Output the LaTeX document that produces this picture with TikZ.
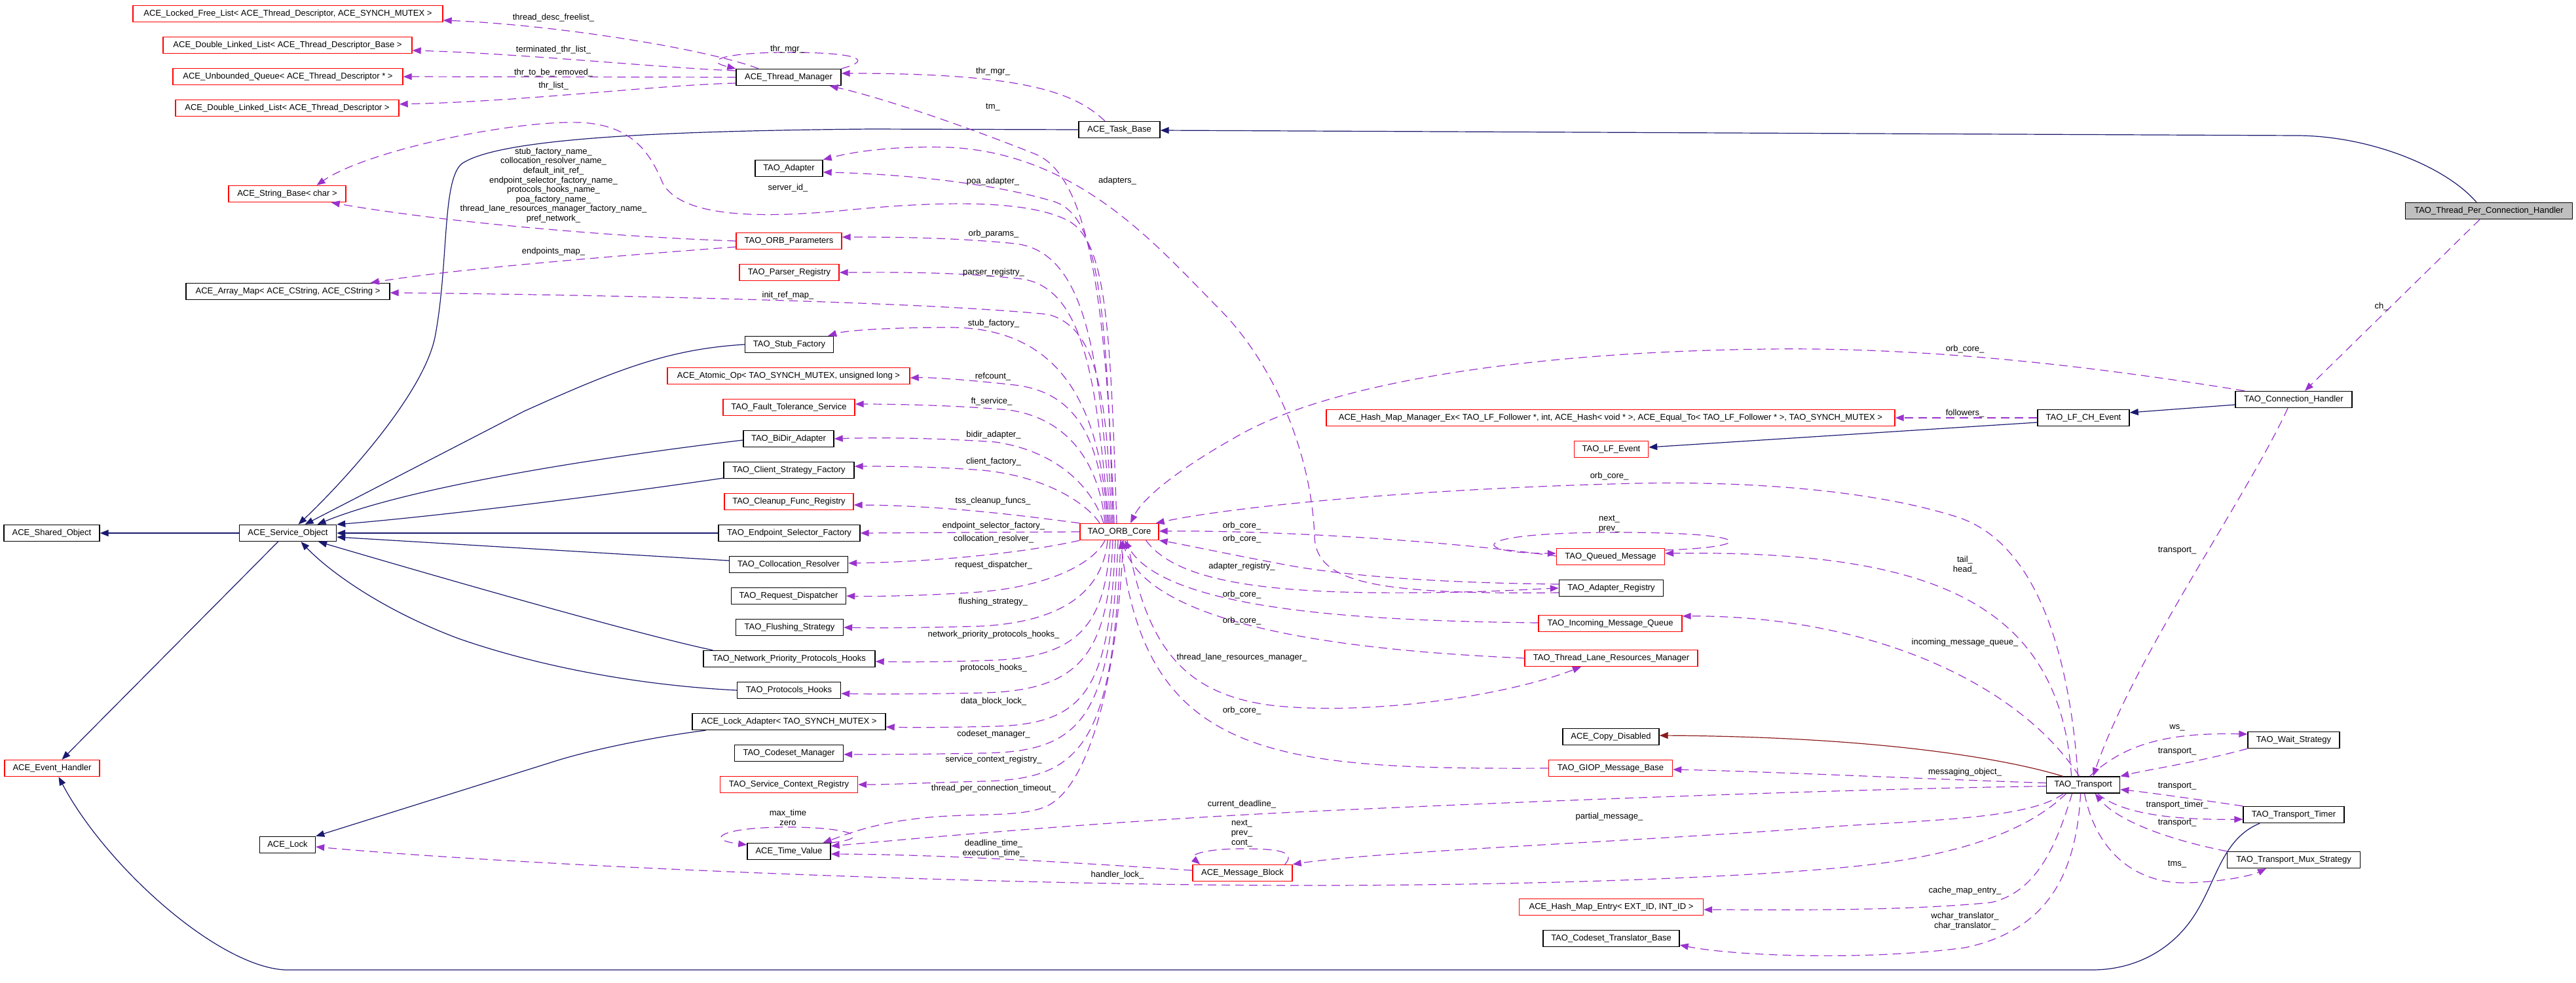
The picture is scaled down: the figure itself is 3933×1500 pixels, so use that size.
\documentclass[tikz,border=0pt]{standalone}
\usepackage{fontspec}
\setmainfont{Liberation Sans}
\usetikzlibrary{arrows.meta}
\definecolor{dxnavy}{HTML}{191970}
\definecolor{dxorch}{HTML}{9A32CD}
\definecolor{dxdark}{HTML}{8B1A1A}
\definecolor{dxgray}{HTML}{BFBFBF}
\newcommand{\dxf}{\fontsize{13}{15}\selectfont}
\begin{document}
\begin{tikzpicture}[x=1pt,y=-1pt,
  cls/.style={draw, line width=1.4pt, minimum height=25pt, inner sep=0pt, font=\dxf},
  rb/.style={cls, draw=red},
  bb/.style={cls, draw=black},
  cur/.style={cls, draw=black, fill=dxgray},
  lab/.style={font=\dxf, inner sep=0pt, align=center},
  inh/.style={draw=dxnavy, line width=1.2pt, -{Triangle[length=13pt,width=10pt]}},
  prv/.style={draw=dxdark, line width=1.2pt, -{Triangle[length=13pt,width=10pt]}},
  use/.style={draw=dxorch, line width=1.2pt, dash pattern=on 13pt off 8pt, -{Triangle[length=13pt,width=10pt]}}]
\useasboundingbox (0,0) rectangle (3933,1500);
\fill[white] (0,0) rectangle (3933,1500);

% ---------------- nodes ----------------
\node[rb, minimum width=473pt] (tpl) at (439.5,21) {ACE\_Locked\_Free\_List< ACE\_Thread\_Descriptor, ACE\_SYNCH\_MUTEX >};
\node[rb, minimum width=380pt] (dllb) at (439,69) {ACE\_Double\_Linked\_List< ACE\_Thread\_Descriptor\_Base >};
\node[rb, minimum width=351pt] (uq) at (439.5,117) {ACE\_Unbounded\_Queue< ACE\_Thread\_Descriptor * >};
\node[rb, minimum width=341pt] (dll) at (438.5,165) {ACE\_Double\_Linked\_List< ACE\_Thread\_Descriptor >};
\node[rb, minimum width=179pt] (strbase) at (438.5,296) {ACE\_String\_Base< char >};
\node[bb, minimum width=311pt] (arraymap) at (439.5,445) {ACE\_Array\_Map< ACE\_CString, ACE\_CString >};
\node[bb, minimum width=148pt] (svcobj) at (439.5,814) {ACE\_Service\_Object};
\node[bb, minimum width=85pt] (lock) at (439,1290) {ACE\_Lock};
\node[bb, minimum width=146pt] (sharedobj) at (79,814) {ACE\_Shared\_Object};
\node[rb, minimum width=145pt] (evh) at (79.5,1173) {ACE\_Event\_Handler};

\node[bb, minimum width=160pt] (thrmgr) at (1204,118) {ACE\_Thread\_Manager};
\node[bb, minimum width=103pt] (adapter) at (1204.5,257) {TAO\_Adapter};
\node[rb, minimum width=161pt] (orbparams) at (1204.5,368) {TAO\_ORB\_Parameters};
\node[rb, minimum width=152pt] (parser) at (1205,416) {TAO\_Parser\_Registry};
\node[bb, minimum width=135pt] (stubf) at (1205,526) {TAO\_Stub\_Factory};
\node[rb, minimum width=370pt] (atomic) at (1204,574) {ACE\_Atomic\_Op< TAO\_SYNCH\_MUTEX, unsigned long >};
\node[rb, minimum width=201pt] (ft) at (1204.5,622) {TAO\_Fault\_Tolerance\_Service};
\node[bb, minimum width=138pt] (bidir) at (1204,670) {TAO\_BiDir\_Adapter};
\node[bb, minimum width=199pt] (csf) at (1204.5,718) {TAO\_Client\_Strategy\_Factory};
\node[rb, minimum width=197pt] (cleanup) at (1204.5,766) {TAO\_Cleanup\_Func\_Registry};
\node[bb, minimum width=216pt] (esf) at (1205,814) {TAO\_Endpoint\_Selector\_Factory};
\node[bb, minimum width=181pt] (colloc) at (1204,862) {TAO\_Collocation\_Resolver};
\node[bb, minimum width=175pt] (reqd) at (1204,910) {TAO\_Request\_Dispatcher};
\node[bb, minimum width=164pt] (flush) at (1205.5,958) {TAO\_Flushing\_Strategy};
\node[bb, minimum width=262pt] (nph) at (1205,1006) {TAO\_Network\_Priority\_Protocols\_Hooks};
\node[bb, minimum width=158pt] (ph) at (1204.5,1054) {TAO\_Protocols\_Hooks};
\node[bb, minimum width=295pt] (lockad) at (1204.5,1102) {ACE\_Lock\_Adapter< TAO\_SYNCH\_MUTEX >};
\node[bb, minimum width=166pt] (csm) at (1204.5,1150) {TAO\_Codeset\_Manager};
\node[rb, minimum width=210pt] (scr) at (1204.5,1198) {TAO\_Service\_Context\_Registry};
\node[bb, minimum width=127pt] (tv) at (1204.5,1300) {ACE\_Time\_Value};

\node[bb, minimum width=124pt] (taskbase) at (1709,198) {ACE\_Task\_Base};
\node[rb, minimum width=120pt] (orbcore) at (1709,812) {TAO\_ORB\_Core};
\node[rb, minimum width=152pt] (msgblock) at (1897,1333) {ACE\_Message\_Block};

\node[rb, minimum width=868pt] (hashmgr) at (2459,638) {ACE\_Hash\_Map\_Manager\_Ex< TAO\_LF\_Follower *, int, ACE\_Hash< void * >, ACE\_Equal\_To< TAO\_LF\_Follower * >, TAO\_SYNCH\_MUTEX >};
\node[rb, minimum width=113pt] (lfevent) at (2460,686) {TAO\_LF\_Event};
\node[rb, minimum width=165pt] (queued) at (2459,850) {TAO\_Queued\_Message};
\node[bb, minimum width=159pt] (adreg) at (2460,898) {TAO\_Adapter\_Registry};
\node[rb, minimum width=219pt] (imq) at (2458.5,952) {TAO\_Incoming\_Message\_Queue};
\node[rb, minimum width=264pt] (tlrm) at (2460,1005) {TAO\_Thread\_Lane\_Resources\_Manager};
\node[bb, minimum width=147pt] (copydis) at (2459.5,1125) {ACE\_Copy\_Disabled};
\node[rb, minimum width=189pt] (giop) at (2459,1173) {TAO\_GIOP\_Message\_Base};
\node[rb, minimum width=281pt] (hashentry) at (2460,1385) {ACE\_Hash\_Map\_Entry< EXT\_ID, INT\_ID >};
\node[bb, minimum width=208pt] (cstrans) at (2460,1433) {TAO\_Codeset\_Translator\_Base};

\node[bb, minimum width=140pt] (lfch) at (3181,638) {TAO\_LF\_CH\_Event};
\node[bb, minimum width=112pt] (transport) at (3180.6,1198.5) {TAO\_Transport};
\node[bb, minimum width=178pt] (connh) at (3502,610) {TAO\_Connection\_Handler};
\node[bb, minimum width=140pt] (waits) at (3502,1130) {TAO\_Wait\_Strategy};
\node[bb, minimum width=154pt] (timer) at (3502,1244) {TAO\_Transport\_Timer};
\node[bb, minimum width=203pt] (mux) at (3502,1313) {TAO\_Transport\_Mux\_Strategy};
\node[cur, minimum width=255pt] (tpch) at (3800,322) {TAO\_Thread\_Per\_Connection\_Handler};

% ---------------- inheritance ----------------
\draw[inh] ([xshift=-19pt]tpch.north) .. controls (3735,255) and (3620,208) .. (3509,207) -- ([yshift=-1pt]taskbase.east);
\draw[inh] (taskbase.west) -- (1330,197) .. controls (1000,200) and (760,212) .. (705,250) .. controls (675,275) and (685,400) .. (665,510) .. controls (650,600) and (520,740) .. ([xshift=16pt]svcobj.north);
\draw[inh] (stubf.west) .. controls (1020,533) and (940,565) .. (800,628) -- ([xshift=26pt]svcobj.north);
\draw[inh] ([yshift=-2pt]bidir.west) .. controls (900,700) and (620,745) .. ([xshift=45pt]svcobj.north);
\draw[inh] ([yshift=-12pt]csf.west) .. controls (900,760) and (650,790) .. (svcobj.north east);
\draw[inh] (esf.west) -- (svcobj.east);
\draw[inh] ([yshift=6pt]colloc.west) -- ([yshift=-6pt]svcobj.east);
\draw[inh] ([xshift=15pt]nph.north west) .. controls (980,970) and (700,890) .. ([xshift=-28pt]svcobj.south east);
\draw[inh] (ph.west) .. controls (950,1045) and (800,1010) .. (700,975) .. controls (580,930) and (500,870) .. ([xshift=20pt]svcobj.south);
\draw[inh] (svcobj.west) -- (sharedobj.east);
\draw[inh] ([xshift=-15pt]svcobj.south) -- ([xshift=15pt]evh.north);
\draw[inh] ([xshift=-52pt]timer.south) .. controls (3395,1280) and (3385,1340) .. (3355,1390) .. controls (3320,1450) and (3260,1481) .. (3194,1481) -- (435,1481) .. controls (330,1475) and (160,1320) .. ([xshift=10pt]evh.south);
\draw[inh] ([xshift=-127pt]lockad.south) .. controls (1000,1125) and (900,1145) .. (842,1164) -- (lock.north east);
\draw[inh] ([yshift=-7pt]lfch.west) -- ([yshift=3pt]lfevent.east);
\draw[inh] ([yshift=-8pt]connh.west) -- ([yshift=8pt]lfch.east);
\draw[prv] ([xshift=-31pt]transport.north) .. controls (3050,1155) and (2850,1125) .. ([yshift=2pt]copydis.east);

% ---------------- usage ----------------
\draw[use] ([xshift=-46pt]thrmgr.north) .. controls (1080,75) and (850,38) .. ([yshift=-10pt]tpl.east);
\draw[use] ([yshift=10pt]thrmgr.west) .. controls (1000,103) and (800,82) .. ([yshift=-8pt]dllb.east);
\draw[use] (thrmgr.west) -- (uq.east);
\draw[use] ([yshift=-9pt]thrmgr.west) .. controls (1000,130) and (800,155) .. ([yshift=6pt]dll.east);
\draw[use] (thrmgr.north east) .. controls (1340,90) and (1300,80) .. (1203,80) .. controls (1110,80) and (1070,92) .. (thrmgr.north west);
\draw[use] ([xshift=-22pt]taskbase.north) .. controls (1640,140) and (1560,112) .. ([yshift=6pt]thrmgr.east);
\draw[use] ([xshift=-8pt]orbcore.north) .. controls (1690,500) and (1670,270) .. (1580,235) .. controls (1480,195) and (1350,150) .. ([xshift=-18pt]thrmgr.south east);
\draw[use] ([xshift=-4pt]orbcore.north) .. controls (1695,500) and (1690,370) .. (1631,337) .. controls (1560,300) and (1400,310) .. (1281,322) .. controls (1150,334) and (1040,330) .. (1012,280) .. controls (995,240) and (970,190) .. (884,187) .. controls (780,184) and (560,230) .. ([xshift=45pt]strbase.north);
\draw[use] (orbparams.west) .. controls (900,360) and (650,335) .. ([xshift=-23pt]strbase.south east);
\draw[use] ([yshift=-9pt]orbparams.west) .. controls (950,390) and (700,410) .. ([xshift=-30pt]arraymap.north east);
\draw[use] ([xshift=-12pt]orbcore.north) .. controls (1690,600) and (1675,500) .. (1600,480) .. controls (1400,460) and (900,450) .. ([yshift=-2pt]arraymap.east);
\draw[use] ([xshift=-10pt]orbcore.north) .. controls (1690,450) and (1675,330) .. (1610,308) .. controls (1500,275) and (1350,265) .. ([yshift=-6pt]adapter.east);
\draw[use] ([yshift=-7pt]adreg.west) .. controls (2100,908) and (2010,890) .. (2007,820) .. controls (2003,700) and (1950,560) .. (1860,470) .. controls (1770,380) and (1650,235) .. (1450,225) .. controls (1350,222) and (1290,235) .. (adapter.north east);
\draw[use] ([xshift=-14pt]orbcore.north) .. controls (1680,550) and (1660,385) .. (1550,372) .. controls (1450,362) and (1350,362) .. ([yshift=6pt]orbparams.east);
\draw[use] ([xshift=-16pt]orbcore.north) .. controls (1675,600) and (1660,440) .. (1560,426) .. controls (1450,414) and (1350,416) .. (parser.east);
\draw[use] ([xshift=-18pt]orbcore.north) .. controls (1680,620) and (1620,500) .. (1450,500) .. controls (1350,500) and (1290,505) .. ([xshift=-9pt]stubf.north east);
\draw[use] ([xshift=-20pt]orbcore.north) .. controls (1680,680) and (1650,600) .. (1550,588) .. controls (1480,580) and (1420,576) .. ([yshift=-3pt]atomic.east);
\draw[use] ([xshift=-22pt]orbcore.north) .. controls (1680,720) and (1640,640) .. (1540,626) .. controls (1450,618) and (1350,617) .. ([yshift=5pt]ft.east);
\draw[use] ([xshift=-24pt]orbcore.north) .. controls (1670,750) and (1620,690) .. (1520,675) .. controls (1420,668) and (1330,668) .. (bidir.east);
\draw[use] ([xshift=-30pt]orbcore.north) .. controls (1660,770) and (1600,728) .. (1500,718) .. controls (1420,712) and (1350,712) .. ([yshift=6pt]csf.east);
\draw[use] (orbcore.north west) .. controls (1580,790) and (1450,772) .. ([yshift=-5pt]cleanup.east);
\draw[use] (orbcore.west) -- (esf.east);
\draw[use] (orbcore.south west) .. controls (1560,845) and (1420,858) .. ([yshift=2pt]colloc.east);
\draw[use] ([xshift=-22pt]orbcore.south) .. controls (1670,860) and (1600,898) .. (1480,905) .. controls (1400,910) and (1330,911) .. (reqd.east);
\draw[use] ([xshift=-18pt]orbcore.south) .. controls (1685,890) and (1640,948) .. (1500,956) .. controls (1400,959) and (1330,959) .. (flush.east);
\draw[use] ([xshift=-14pt]orbcore.south) .. controls (1688,950) and (1650,1002) .. (1520,1008) .. controls (1440,1011) and (1380,1011) .. ([yshift=-4pt]nph.east);
\draw[use] ([xshift=-10pt]orbcore.south) .. controls (1692,1000) and (1650,1054) .. (1500,1058) .. controls (1400,1060) and (1330,1060) .. ([yshift=-5pt]ph.east);
\draw[use] ([xshift=-6pt]orbcore.south) .. controls (1694,1050) and (1660,1105) .. (1520,1109) .. controls (1440,1111) and (1390,1111) .. ([yshift=-8pt]lockad.east);
\draw[use] ([xshift=-2pt]orbcore.south) .. controls (1697,1100) and (1650,1148) .. (1500,1150) .. controls (1400,1152) and (1330,1152) .. ([yshift=-2pt]csm.east);
\draw[use] ([xshift=2pt]orbcore.south) .. controls (1700,1140) and (1650,1190) .. (1500,1193) .. controls (1420,1195) and (1360,1198) .. (scr.east);
\draw[use] ([xshift=6pt]orbcore.south) .. controls (1705,1050) and (1660,1200) .. (1600,1230) .. controls (1560,1250) and (1480,1240) .. (1400,1250) .. controls (1330,1258) and (1290,1275) .. ([xshift=-12pt]tv.north east);
\draw[use] (tv.north east) .. controls (1335,1280) and (1300,1263) .. (1203,1263) .. controls (1100,1263) and (1075,1282) .. ([yshift=10pt]tv.west);
\draw[use] ([yshift=-2pt]transport.west) .. controls (2800,1205) and (2300,1225) .. (2000,1239) .. controls (1700,1253) and (1400,1280) .. ([yshift=8pt]tv.east);
\draw[use] ([yshift=4pt]msgblock.west) .. controls (1650,1318) and (1450,1305) .. ([yshift=-4pt]tv.east);
\draw[use] ([xshift=-12pt]msgblock.north east) .. controls (1980,1300) and (1950,1296) .. (1897,1296) .. controls (1840,1296) and (1815,1305) .. ([xshift=12pt]msgblock.north west);
\draw[use] ([xshift=-30pt]transport.south) .. controls (3100,1250) and (2950,1252) .. (2800,1262) .. controls (2500,1285) and (2100,1300) .. (msgblock.north east);
\draw[use] ([xshift=-26pt]transport.south) .. controls (3100,1265) and (3000,1305) .. (2840,1322) .. controls (2650,1342) and (2300,1352) .. (2000,1352) .. controls (1500,1352) and (800,1322) .. ([yshift=-3pt]lock.east);
\draw[use] ([yshift=3pt]transport.west) .. controls (2950,1190) and (2700,1178) .. ([yshift=-2pt]giop.east);
\draw[use] ([xshift=-17pt]transport.south) .. controls (3140,1290) and (3110,1362) .. (3040,1378) .. controls (2900,1392) and (2700,1389) .. ([yshift=-4pt]hashentry.east);
\draw[use] ([xshift=-4pt]transport.south) .. controls (3170,1330) and (3130,1420) .. (3000,1447) .. controls (2850,1467) and (2650,1460) .. ([yshift=-10pt]cstrans.east);
\draw[use] ([xshift=-6pt]transport.north) .. controls (3080,1040) and (2850,940) .. ([yshift=-2pt]imq.north east);
\draw[use] ([xshift=-18pt]transport.north) .. controls (3145,920) and (2950,840) .. ([yshift=5pt]queued.east);
\draw[use] ([xshift=-8pt]transport.north) .. controls (3160,1000) and (3110,830) .. (2990,790) .. controls (2850,745) and (2650,735) .. (2500,738) .. controls (2200,745) and (1900,770) .. ([xshift=-5pt]orbcore.north east);
\draw[use] ([xshift=-9pt]connh.south) .. controls (3430,760) and (3260,1000) .. ([xshift=15pt]transport.north);
\draw[use] ([xshift=-75pt]connh.north) .. controls (3200,560) and (2950,530) .. (2700,533) .. controls (2350,537) and (2050,580) .. (1900,660) .. controls (1800,715) and (1745,760) .. ([xshift=17pt]orbcore.north);
\draw[use] ([xshift=-14pt]tpch.south) -- ([xshift=17pt]connh.north);
\draw[use] (lfch.west) -- (hashmgr.east);
\draw[use] ([yshift=10pt]queued.east) .. controls (2690,835) and (2680,812) .. (2456,813) .. controls (2230,814) and (2250,845) .. ([yshift=5pt]queued.west);
\draw[use] ([yshift=1pt]queued.west) .. controls (2200,825) and (1950,810) .. ([yshift=1pt]orbcore.east);
\draw[use] ([xshift=-20pt]orbcore.south east) .. controls (1790,880) and (1900,903) .. (2100,905) .. controls (2250,906) and (2330,900) .. (adreg.west);
\draw[use] ([yshift=6pt]adreg.west) .. controls (2200,890) and (2050,880) .. (1950,860) .. controls (1870,845) and (1800,830) .. (orbcore.south east);
\draw[use] ([yshift=1pt]imq.west) .. controls (2100,948) and (1780,935) .. ([xshift=8pt]orbcore.south);
\draw[use] (tlrm.west) .. controls (2100,995) and (1760,965) .. ([xshift=4pt]orbcore.south);
\draw[use] ([xshift=12pt]orbcore.south) .. controls (1750,980) and (1800,1062) .. (1950,1078) .. controls (2100,1092) and (2300,1062) .. ([xshift=-46pt]tlrm.south);
\draw[use] (giop.west) .. controls (1950,1175) and (1750,1160) .. ([xshift=2pt]orbcore.south);
\draw[use] ([xshift=10pt]transport.north) .. controls (3240,1140) and (3300,1118) .. ([yshift=9pt]waits.west);
\draw[use] (waits.south west) .. controls (3350,1165) and (3280,1175) .. (transport.north east);
\draw[use] (timer.north west) .. controls (3350,1220) and (3280,1210) .. ([yshift=-7pt]transport.east);
\draw[use] ([xshift=22pt]transport.south) .. controls (3240,1245) and (3330,1252) .. ([yshift=-7pt]timer.west);
\draw[use] (mux.north west) .. controls (3300,1280) and (3230,1250) .. ([xshift=18pt]transport.south);
\draw[use] ([xshift=2pt]transport.south) .. controls (3200,1300) and (3260,1350) .. (3340,1348) .. controls (3400,1346) and (3440,1336) .. ([xshift=-42pt]mux.south);

% ---------------- labels ----------------
\node[lab] (l1) at (845,27) {thread\_desc\_freelist\_};
\node[lab] (l2) at (845,76) {terminated\_thr\_list\_};
\node[lab] (l3) at (845,111) {thr\_to\_be\_removed\_};
\node[lab] (l4) at (845,131) {thr\_list\_};
\node[lab, font=\fontsize{13}{14.6}\selectfont] (l5) at (845,283) {stub\_factory\_name\_\\collocation\_resolver\_name\_\\default\_init\_ref\_\\endpoint\_selector\_factory\_name\_\\protocols\_hooks\_name\_\\poa\_factory\_name\_\\thread\_lane\_resources\_manager\_factory\_name\_\\pref\_network\_};
\node[lab] (l6) at (845,384) {endpoints\_map\_};
\node[lab] (l7) at (1202,75) {thr\_mgr\_};
\node[lab] (l8) at (1516,109) {thr\_mgr\_};
\node[lab] (l9) at (1516,164) {tm\_};
\node[lab] (l10) at (1516,277) {poa\_adapter\_};
\node[lab] (l11) at (1203,287) {server\_id\_};
\node[lab] (l12) at (1706,276) {adapters\_};
\node[lab] (l13) at (1517,357) {orb\_params\_};
\node[lab] (l14) at (1517,416) {parser\_registry\_};
\node[lab] (l15) at (1203,451) {init\_ref\_map\_};
\node[lab] (l16) at (1517,494) {stub\_factory\_};
\node[lab] (l17) at (1516,575) {refcount\_};
\node[lab] (l18) at (1514,613) {ft\_service\_};
\node[lab] (l19) at (1517,664) {bidir\_adapter\_};
\node[lab] (l20) at (1517,705) {client\_factory\_};
\node[lab] (l21) at (1516,765) {tss\_cleanup\_funcs\_};
\node[lab] (l22) at (1517,803) {endpoint\_selector\_factory\_};
\node[lab] (l23) at (1517,823) {collocation\_resolver\_};
\node[lab] (l24) at (1517,863) {request\_dispatcher\_};
\node[lab] (l25) at (1516,919) {flushing\_strategy\_};
\node[lab] (l26) at (1517,969) {network\_priority\_protocols\_hooks\_};
\node[lab] (l27) at (1517,1020) {protocols\_hooks\_};
\node[lab] (l28) at (1517,1071) {data\_block\_lock\_};
\node[lab] (l29) at (1517,1121) {codeset\_manager\_};
\node[lab] (l30) at (1517,1160) {service\_context\_registry\_};
\node[lab] (l31) at (1517,1204) {thread\_per\_connection\_timeout\_};
\node[lab] (l32) at (1203,1248) {max\_time\\zero};
\node[lab] (l33) at (1517,1296) {deadline\_time\_\\execution\_time\_};
\node[lab] (l34) at (1706,1336) {handler\_lock\_};
\node[lab] (l35) at (1896,803) {orb\_core\_};
\node[lab] (l36) at (1896,823) {orb\_core\_};
\node[lab] (l37) at (1896,865) {adapter\_registry\_};
\node[lab] (l38) at (1896,908) {orb\_core\_};
\node[lab] (l39) at (1896,948) {orb\_core\_};
\node[lab] (l40) at (1896,1004) {thread\_lane\_resources\_manager\_};
\node[lab] (l41) at (1896,1085) {orb\_core\_};
\node[lab] (l42) at (1896,1228) {current\_deadline\_};
\node[lab] (l43) at (1896,1273) {next\_\\prev\_\\cont\_};
\node[lab] (l44) at (2457,727) {orb\_core\_};
\node[lab] (l45) at (2457,800) {next\_\\prev\_};
\node[lab] (l46) at (2457,1247) {partial\_message\_};
\node[lab] (l47) at (3000,533) {orb\_core\_};
\node[lab] (l48) at (3000,631) {followers\_};
\node[lab] (l49) at (3000,863) {tail\_\\head\_};
\node[lab] (l50) at (3000,981) {incoming\_message\_queue\_};
\node[lab] (l51) at (3000,1179) {messaging\_object\_};
\node[lab] (l52) at (3000,1360) {cache\_map\_entry\_};
\node[lab] (l53) at (3000,1407) {wchar\_translator\_\\char\_translator\_};
\node[lab] (l54) at (3636,468) {ch\_};
\node[lab] (l55) at (3324,841) {transport\_};
\node[lab] (l56) at (3324,1111) {ws\_};
\node[lab] (l57) at (3324,1148) {transport\_};
\node[lab] (l58) at (3324,1201) {transport\_};
\node[lab] (l59) at (3324,1229) {transport\_timer\_};
\node[lab] (l60) at (3324,1257) {transport\_};
\node[lab] (l61) at (3324,1320) {tms\_};
\end{tikzpicture}
\end{document}
